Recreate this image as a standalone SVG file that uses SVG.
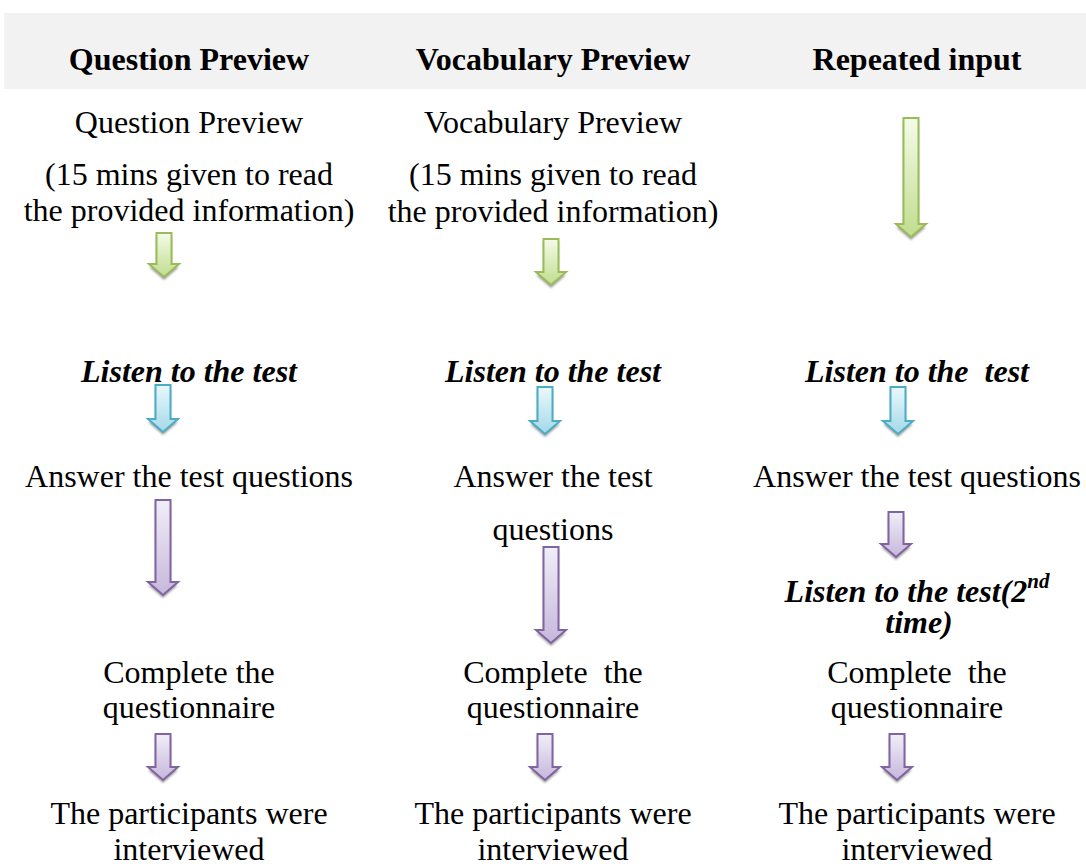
<svg xmlns="http://www.w3.org/2000/svg" width="1086" height="864" viewBox="0 0 1086 864">
  <defs>
    <linearGradient id="gGreen" x1="0" y1="0" x2="0" y2="1">
      <stop offset="0" stop-color="#f4fbe9"/>
      <stop offset="1" stop-color="#c0dd8e"/>
    </linearGradient>
    <linearGradient id="gBlue" x1="0" y1="0" x2="0" y2="1">
      <stop offset="0" stop-color="#eaf8fc"/>
      <stop offset="1" stop-color="#a3d9e8"/>
    </linearGradient>
    <linearGradient id="gPurple" x1="0" y1="0" x2="0" y2="1">
      <stop offset="0" stop-color="#f1eef7"/>
      <stop offset="1" stop-color="#c6b7dc"/>
    </linearGradient>
    <filter id="soft" x="-30%" y="-30%" width="160%" height="160%">
      <feGaussianBlur stdDeviation="1.2"/>
    </filter>
  </defs>
  <style>
    text { font-family: "Liberation Serif", "Times New Roman", serif; font-size: 32px; fill: #000; text-anchor: middle; }
    .hd { font-weight: bold; }
    .bi { font-weight: bold; font-style: italic; }
    .shadow { fill: #7f7f7f; opacity: 0.75; filter: url(#soft); }
    .green { fill: url(#gGreen); stroke: #9bbb59; stroke-width: 2; stroke-linejoin: miter; }
    .blue { fill: url(#gBlue); stroke: #4bacc6; stroke-width: 2; stroke-linejoin: miter; }
    .purple { fill: url(#gPurple); stroke: #8064a2; stroke-width: 2; stroke-linejoin: miter; }
  </style>

  <!-- header band -->
  <g id="header">
    <rect x="4" y="13" width="1082" height="76" fill="#f2f2f2"/>
    <text class="hd" x="189" y="70">Question Preview</text>
    <text class="hd" x="553" y="70">Vocabulary Preview</text>
    <text class="hd" x="917" y="70">Repeated input</text>
  </g>

  <!-- column 1: question preview -->
  <g id="c1-preview"><text x="189" y="133">Question Preview</text>
    <text x="189" y="185">(15 mins given to read</text>
    <text x="189" y="221">the provided information)</text></g>
  <g id="c1-listen"><text class="bi" x="189" y="382">Listen to the test</text></g>
  <g id="c1-answer"><text x="189" y="487">Answer the test questions</text></g>
  <g id="c1-complete"><text x="189" y="683">Complete the</text>
    <text x="189" y="718">questionnaire</text></g>
  <g id="c1-interview"><text x="189" y="824">The participants were</text>
    <text x="189" y="860">interviewed</text></g>

  <!-- column 2: vocabulary preview -->
  <g id="c2-preview"><text x="553" y="133">Vocabulary Preview</text>
    <text x="553" y="185">(15 mins given to read</text>
    <text x="553" y="222">the provided information)</text></g>
  <g id="c2-listen"><text class="bi" x="553" y="382">Listen to the test</text></g>
  <g id="c2-answer"><text x="553" y="487">Answer the test</text>
    <text x="553" y="540">questions</text></g>
  <g id="c2-complete"><text x="553" y="683" xml:space="preserve">Complete  the</text>
    <text x="553" y="718">questionnaire</text></g>
  <g id="c2-interview"><text x="553" y="824">The participants were</text>
    <text x="553" y="860">interviewed</text></g>

  <!-- column 3: repeated input -->
  <g id="c3-listen"><text class="bi" x="917" y="382" xml:space="preserve">Listen to the  test</text></g>
  <g id="c3-answer"><text x="917" y="487">Answer the test questions</text></g>
  <g id="c3-listen2"><text class="bi" x="917" y="602">Listen to the test(2<tspan font-size="21" dy="-14">nd</tspan></text>
    <text class="bi" x="919" y="633">time)</text></g>
  <g id="c3-complete"><text x="917" y="683" xml:space="preserve">Complete  the</text>
    <text x="917" y="718">questionnaire</text></g>
  <g id="c3-interview"><text x="917" y="824">The participants were</text>
    <text x="917" y="860">interviewed</text></g>

  <!-- block arrows: shaft half-width 7.5, head half-width 15, head height 13 -->
  <g id="connectors">
    <!-- column 1 -->
    <path class="shadow" d="M156.5,236 H171.5 V267 H179 L164,280 L149,267 H156.5 Z"/>
    <path class="green" d="M156.5,233 H171.5 V264 H179 L164,277 L149,264 H156.5 Z"/>
    <path class="shadow" d="M155.5,388 H170.5 V422 H178 L163,435 L148,422 H155.5 Z"/>
    <path class="blue" d="M155.5,385 H170.5 V419 H178 L163,432 L148,419 H155.5 Z"/>
    <path class="shadow" d="M155.5,503 H170.5 V585 H178 L163,598 L148,585 H155.5 Z"/>
    <path class="purple" d="M155.5,500 H170.5 V582 H178 L163,595 L148,582 H155.5 Z"/>
    <path class="shadow" d="M155.5,737 H170.5 V770 H178 L163,783 L148,770 H155.5 Z"/>
    <path class="purple" d="M155.5,734 H170.5 V767 H178 L163,780 L148,767 H155.5 Z"/>
    <!-- column 2 -->
    <path class="shadow" d="M543.5,242 H558.5 V275 H566 L551,288 L536,275 H543.5 Z"/>
    <path class="green" d="M543.5,239 H558.5 V272 H566 L551,285 L536,272 H543.5 Z"/>
    <path class="shadow" d="M537.5,390 H552.5 V424 H560 L545,437 L530,424 H537.5 Z"/>
    <path class="blue" d="M537.5,387 H552.5 V421 H560 L545,434 L530,421 H537.5 Z"/>
    <path class="shadow" d="M543.5,550 H558.5 V633 H566 L551,646 L536,633 H543.5 Z"/>
    <path class="purple" d="M543.5,547 H558.5 V630 H566 L551,643 L536,630 H543.5 Z"/>
    <path class="shadow" d="M537.5,737 H552.5 V770 H560 L545,783 L530,770 H537.5 Z"/>
    <path class="purple" d="M537.5,734 H552.5 V767 H560 L545,780 L530,767 H537.5 Z"/>
    <!-- column 3 -->
    <path class="shadow" d="M903.5,121 H918.5 V227 H926 L911,240 L896,227 H903.5 Z"/>
    <path class="green" d="M903.5,118 H918.5 V224 H926 L911,237 L896,224 H903.5 Z"/>
    <path class="shadow" d="M890.5,390 H905.5 V424 H913 L898,437 L883,424 H890.5 Z"/>
    <path class="blue" d="M890.5,387 H905.5 V421 H913 L898,434 L883,421 H890.5 Z"/>
    <path class="shadow" d="M888.5,515 H903.5 V547 H911 L896,560 L881,547 H888.5 Z"/>
    <path class="purple" d="M888.5,512 H903.5 V544 H911 L896,557 L881,544 H888.5 Z"/>
    <path class="shadow" d="M889.5,737 H904.5 V770 H912 L897,783 L882,770 H889.5 Z"/>
    <path class="purple" d="M889.5,734 H904.5 V767 H912 L897,780 L882,767 H889.5 Z"/>
  </g>
</svg>
